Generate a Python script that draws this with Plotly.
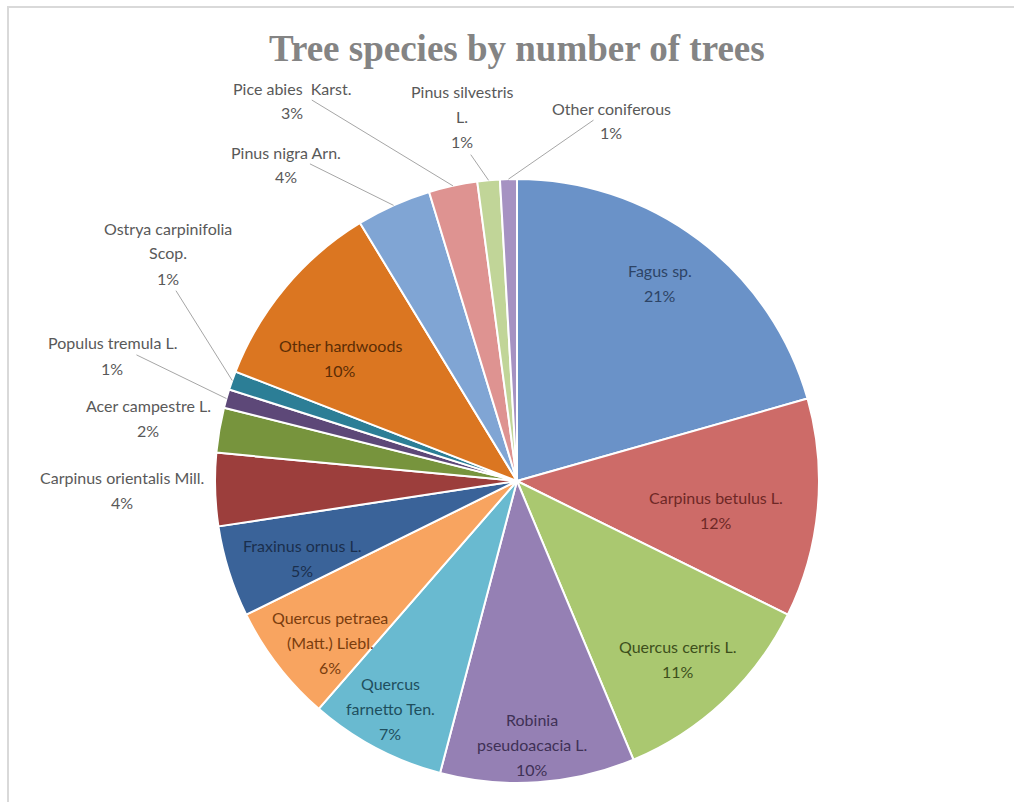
import plotly.graph_objects as go
import math

# ---------------- data ----------------
species = [
    "Fagus sp.", "Carpinus betulus L.", "Quercus cerris L.", "Robinia pseudoacacia L.",
    "Quercus farnetto Ten.", "Quercus petraea (Matt.) Liebl.", "Fraxinus ornus L.",
    "Carpinus orientalis Mill.", "Acer campestre L.", "Populus tremula L.",
    "Ostrya carpinifolia Scop.", "Other hardwoods", "Pinus nigra Arn.",
    "Pice abies  Karst.", "Pinus silvestris L.", "Other coniferous",
]
share = [20.6, 11.7, 11.4, 10.4, 7.3, 6.3, 4.9, 3.9, 2.4, 1.0, 1.0, 10.4, 4.0, 2.6, 1.2, 0.9]
title_text = "Tree species by number of trees"

# ---------------- style / layout ----------------
slice_colors = [
    "#6a92c8", "#cd6b68", "#aac870", "#9580b4", "#69bad0", "#f8a460", "#3a6399",
    "#9c3e3c", "#77943d", "#5d4878", "#2c7e96", "#db7621", "#80a5d4", "#de9391",
    "#c1d598", "#a692c2",
]
# name line breaks for display
name_lines = {
    "Robinia pseudoacacia L.": ["Robinia", "pseudoacacia L."],
    "Quercus farnetto Ten.": ["Quercus", "farnetto Ten."],
    "Quercus petraea (Matt.) Liebl.": ["Quercus petraea", "(Matt.) Liebl."],
    "Ostrya carpinifolia Scop.": ["Ostrya carpinifolia", "Scop."],
    "Pinus silvestris L.": ["Pinus silvestris", "L."],
}
# label placement in pixels: (center x, first line y, arrow-line index or None, text colour)
label_pos = {
    "Fagus sp.": (660, 270, None, "#2d4466"),
    "Carpinus betulus L.": (716, 497, None, "#6e2826"),
    "Quercus cerris L.": (678, 646, None, "#3d4f1c"),
    "Robinia pseudoacacia L.": (532, 719, None, "#3f3156"),
    "Quercus farnetto Ten.": (390, 683, None, "#1f4f5e"),
    "Quercus petraea (Matt.) Liebl.": (330, 617, None, "#7a3d0e"),
    "Fraxinus ornus L.": (302, 545, None, "#1a2f4d"),
    "Carpinus orientalis Mill.": (122, 478, None, "#595959"),
    "Acer campestre L.": (148, 405, None, "#595959"),
    "Populus tremula L.": (112, 343, 0, "#595959"),
    "Ostrya carpinifolia Scop.": (168, 228, 2, "#595959"),
    "Other hardwoods": (340, 345, None, "#5c2d05"),
    "Pinus nigra Arn.": (286, 152, 0, "#595959"),
    "Pice abies  Karst.": (292, 88, 0, "#595959"),
    "Pinus silvestris L.": (462, 92, 2, "#595959"),
    "Other coniferous": (611, 108, 0, "#595959"),
}
LINE_GAP = 25
FONT = "Lato"
FONT_SIZE = 16

W, H = 1014, 802
CX, CY, R = 517, 481, 302

total = sum(share)
pct = [f"{round(v / total * 100)}%" for v in share]


def px2paper(x, y):
    return x / W, 1 - y / H


fig = go.Figure()
fig.add_trace(go.Pie(
    labels=species, values=share, sort=False, direction="clockwise", rotation=0,
    marker=dict(colors=slice_colors, line=dict(color="white", width=2)),
    textinfo="none", hoverinfo="label+percent", showlegend=False,
    domain=dict(x=[(CX - R) / W, (CX + R) / W], y=[1 - (CY + R) / H, 1 - (CY - R) / H]),
))

annotations = []
cum = 0.0
for name, v, p in zip(species, share, pct):
    mid = (cum + v / 2) / total * 2 * math.pi
    cum += v
    tipx = CX + R * math.sin(mid)
    tipy = CY - R * math.cos(mid)
    lines = name_lines.get(name, [name]) + [p]
    lx, ly0, arrow_idx, color = label_pos[name]
    for i, line in enumerate(lines):
        ly = ly0 + i * LINE_GAP
        if arrow_idx is not None and i == arrow_idx:
            tx, ty = px2paper(tipx, tipy)
            annotations.append(dict(
                x=tx, y=ty, xref="paper", yref="paper", text=line,
                showarrow=True, arrowhead=0, arrowwidth=1, arrowcolor="#a6a6a6",
                ax=lx - tipx, ay=ly - tipy, standoff=0, startstandoff=2,
                font=dict(family=FONT, size=FONT_SIZE, color=color),
            ))
        else:
            x, y = px2paper(lx, ly)
            annotations.append(dict(
                x=x, y=y, xref="paper", yref="paper", text=line, showarrow=False,
                xanchor="center", yanchor="middle",
                font=dict(family=FONT, size=FONT_SIZE, color=color),
            ))

tx, ty = px2paper(517, 48)
annotations.append(dict(
    x=tx, y=ty, xref="paper", yref="paper", text="<b>" + title_text + "</b>",
    showarrow=False, xanchor="center", yanchor="middle",
    font=dict(family="Liberation Serif", size=37, color="#848484"),
))

fig.update_layout(
    width=W, height=H, margin=dict(l=0, r=0, t=0, b=0),
    paper_bgcolor="white", plot_bgcolor="white",
    annotations=annotations,
    shapes=[dict(type="rect", xref="paper", yref="paper",
                 x0=8 / W, x1=1.2, y0=-0.2, y1=1 - 7 / H,
                 line=dict(color="#d9d9d9", width=2), layer="below")],
)

fig.write_html("out.html")
